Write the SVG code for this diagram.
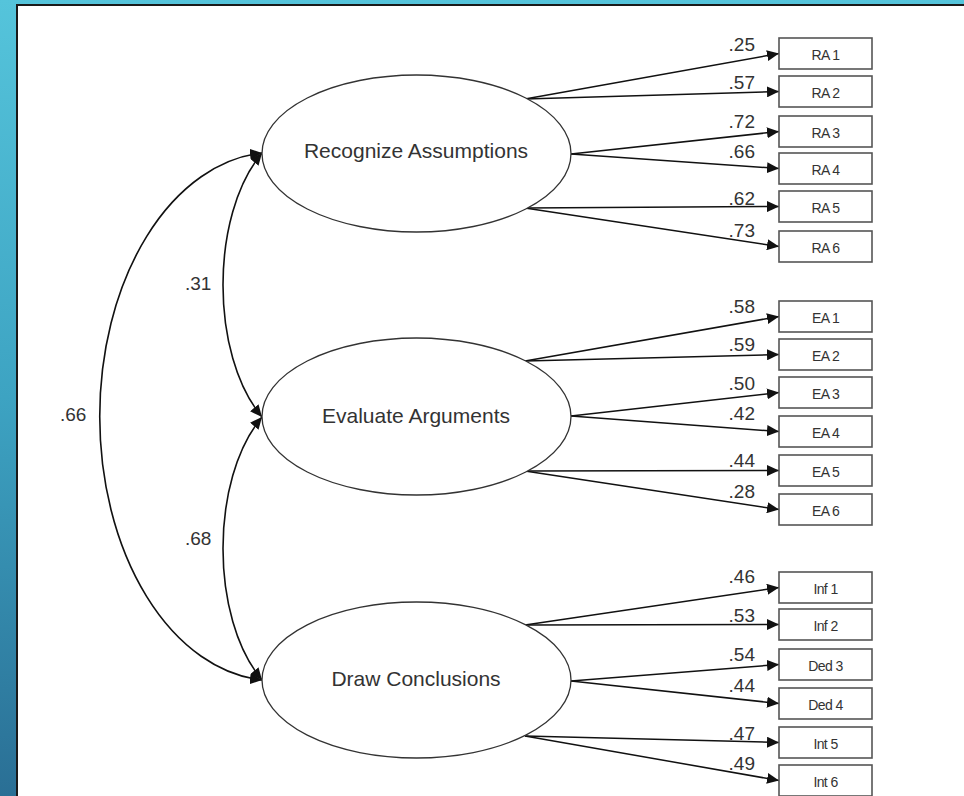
<svg xmlns="http://www.w3.org/2000/svg" width="964" height="796" viewBox="0 0 964 796">
<defs>
<linearGradient id="bg" x1="0" y1="0" x2="0" y2="1">
<stop offset="0" stop-color="#55C4DB"/>
<stop offset="0.5" stop-color="#3DA3C2"/>
<stop offset="1" stop-color="#2A6F95"/>
</linearGradient>
<marker id="ah" markerUnits="userSpaceOnUse" markerWidth="12" markerHeight="11" refX="12" refY="5.5" orient="auto-start-reverse" viewBox="0 0 12 11">
<path d="M0,0 L12,5.5 L0,11 z" fill="#111"/>
</marker>
<style>
.lat{fill:#fff;stroke:#333;stroke-width:1.3}
.latt{font-family:"Liberation Sans",Arial,sans-serif;font-size:21px;fill:#333;text-anchor:middle}
.box{fill:#fff;stroke:#555;stroke-width:1.6}
.boxt{font-family:"Liberation Sans",Arial,sans-serif;font-size:14px;fill:#333;text-anchor:middle;letter-spacing:-0.6px}
.num{font-family:"Liberation Sans",Arial,sans-serif;font-size:19px;fill:#333;text-anchor:end}
.cor{font-family:"Liberation Sans",Arial,sans-serif;font-size:19px;fill:#333;text-anchor:start}
.ln{fill:none;stroke:#111;stroke-width:1.5;marker-end:url(#ah)}
.cv{fill:none;stroke:#111;stroke-width:1.6;marker-start:url(#ah);marker-end:url(#ah)}
</style>
</defs>
<rect x="0" y="0" width="964" height="796" fill="url(#bg)"/>
<rect x="17" y="5" width="960" height="800" fill="#fff" stroke="#1a1a1a" stroke-width="2"/>

<g id="connectors">
<path class="cv" d="M262,153 A175,264.2 0 0 0 262,680"/>
<path class="cv" d="M262,153 C210,215 210,355 262,417"/>
<path class="cv" d="M262,417 C210,479 210,618 262,680"/>
<path class="ln" d="M525,99 L779,53.5"/>
<path class="ln" d="M525,99 L779,91.5"/>
<path class="ln" d="M571,154 L779,131.5"/>
<path class="ln" d="M571,154 L779,168.5"/>
<path class="ln" d="M525,208 L779,206.5"/>
<path class="ln" d="M525,208 L779,246.5"/>
<path class="ln" d="M525,361 L779,316.5"/>
<path class="ln" d="M525,361 L779,354.5"/>
<path class="ln" d="M571,416 L779,392.5"/>
<path class="ln" d="M571,416 L779,431.5"/>
<path class="ln" d="M525,471 L779,470.5"/>
<path class="ln" d="M525,471 L779,509.5"/>
<path class="ln" d="M525,625 L779,587.5"/>
<path class="ln" d="M525,625 L779,624.5"/>
<path class="ln" d="M571,681 L779,664.5"/>
<path class="ln" d="M571,681 L779,703.5"/>
<path class="ln" d="M525,736 L779,742.5"/>
<path class="ln" d="M525,736 L779,780.5"/>
<text class="cor" x="185" y="290">.31</text>
<text class="cor" x="60" y="421">.66</text>
<text class="cor" x="185" y="545">.68</text>
<text class="num" x="755" y="51">.25</text>
<text class="num" x="755" y="89">.57</text>
<text class="num" x="755" y="128">.72</text>
<text class="num" x="755" y="158">.66</text>
<text class="num" x="755" y="205">.62</text>
<text class="num" x="755" y="237">.73</text>
<text class="num" x="755" y="313">.58</text>
<text class="num" x="755" y="351">.59</text>
<text class="num" x="755" y="390">.50</text>
<text class="num" x="755" y="420">.42</text>
<text class="num" x="755" y="467">.44</text>
<text class="num" x="755" y="498">.28</text>
<text class="num" x="755" y="583">.46</text>
<text class="num" x="755" y="622">.53</text>
<text class="num" x="755" y="661">.54</text>
<text class="num" x="755" y="692">.44</text>
<text class="num" x="755" y="740">.47</text>
<text class="num" x="755" y="770">.49</text>
</g>

<g id="recognize-assumptions"><ellipse class="lat" cx="416.5" cy="153.5" rx="154.5" ry="78.5"/><text class="latt" x="416" y="158">Recognize Assumptions</text></g>
<g id="evaluate-arguments"><ellipse class="lat" cx="416.5" cy="416.5" rx="154.5" ry="78.5"/><text class="latt" x="416" y="423">Evaluate Arguments</text></g>
<g id="draw-conclusions"><ellipse class="lat" cx="416.5" cy="680" rx="154.5" ry="78"/><text class="latt" x="416" y="686">Draw Conclusions</text></g>

<g id="RA1"><rect class="box" x="779" y="38" width="93" height="31"/><text class="boxt" x="825.5" y="60">RA 1</text></g>
<g id="RA2"><rect class="box" x="779" y="76" width="93" height="31"/><text class="boxt" x="825.5" y="98">RA 2</text></g>
<g id="RA3"><rect class="box" x="779" y="116" width="93" height="31"/><text class="boxt" x="825.5" y="138">RA 3</text></g>
<g id="RA4"><rect class="box" x="779" y="153" width="93" height="31"/><text class="boxt" x="825.5" y="175">RA 4</text></g>
<g id="RA5"><rect class="box" x="779" y="191" width="93" height="31"/><text class="boxt" x="825.5" y="213">RA 5</text></g>
<g id="RA6"><rect class="box" x="779" y="231" width="93" height="31"/><text class="boxt" x="825.5" y="253">RA 6</text></g>
<g id="EA1"><rect class="box" x="779" y="301" width="93" height="31"/><text class="boxt" x="825.5" y="323">EA 1</text></g>
<g id="EA2"><rect class="box" x="779" y="339" width="93" height="31"/><text class="boxt" x="825.5" y="361">EA 2</text></g>
<g id="EA3"><rect class="box" x="779" y="377" width="93" height="31"/><text class="boxt" x="825.5" y="399">EA 3</text></g>
<g id="EA4"><rect class="box" x="779" y="416" width="93" height="31"/><text class="boxt" x="825.5" y="438">EA 4</text></g>
<g id="EA5"><rect class="box" x="779" y="455" width="93" height="31"/><text class="boxt" x="825.5" y="477">EA 5</text></g>
<g id="EA6"><rect class="box" x="779" y="494" width="93" height="31"/><text class="boxt" x="825.5" y="516">EA 6</text></g>
<g id="Inf1"><rect class="box" x="779" y="572" width="93" height="31"/><text class="boxt" x="825.5" y="594">Inf 1</text></g>
<g id="Inf2"><rect class="box" x="779" y="609" width="93" height="31"/><text class="boxt" x="825.5" y="631">Inf 2</text></g>
<g id="Ded3"><rect class="box" x="779" y="649" width="93" height="31"/><text class="boxt" x="825.5" y="671">Ded 3</text></g>
<g id="Ded4"><rect class="box" x="779" y="688" width="93" height="31"/><text class="boxt" x="825.5" y="710">Ded 4</text></g>
<g id="Int5"><rect class="box" x="779" y="727" width="93" height="31"/><text class="boxt" x="825.5" y="749">Int 5</text></g>
<g id="Int6"><rect class="box" x="779" y="765" width="93" height="31"/><text class="boxt" x="825.5" y="787">Int 6</text></g>
</svg>
